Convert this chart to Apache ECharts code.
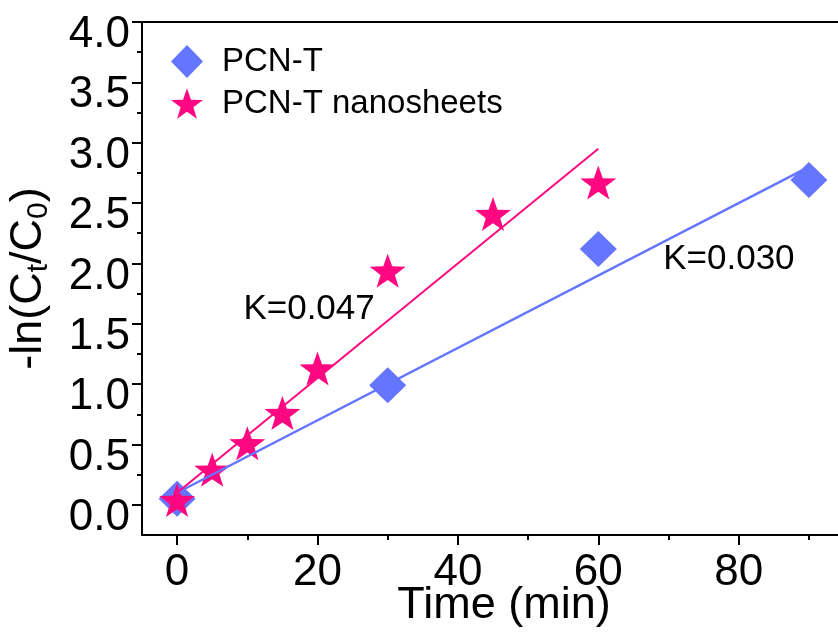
<!DOCTYPE html>
<html>
<head>
<meta charset="utf-8">
<script src="https://cdn.jsdelivr.net/npm/echarts@6/dist/echarts.min.js"></script>
<style>
html,body{margin:0;padding:0;background:#fff;}
#chart{width:838px;height:635px;}
</style>
</head>
<body>
<div id="chart"></div>
<script>
// ---- data ----
var seriesNames = ['PCN-T', 'PCN-T nanosheets'];
var timeT = [0, 30, 60, 90];
var valT = [0.05, 0.99, 2.12, 2.69];
var timeNS = [0, 5, 10, 15, 20, 30, 45, 60];
var valNS = [0.04, 0.29, 0.51, 0.76, 1.13, 1.94, 2.41, 2.67];
// linear fits (endpoints of fitted lines)
var fitT_x = [0, 90];
var fitT_y = [0.10, 2.80];
var fitNS_x = [0, 60];
var fitNS_y = [0.10, 2.95];
var fitLabels = ['K=0.030', 'K=0.047'];
var fitLabelPosT = [78.6, 2.03];
var fitLabelPosNS = [18.8, 1.62];
// ticks
var xMajor = [0, 20, 40, 60, 80];
var xMinor = [10, 30, 50, 70, 90];
var yMajor = [0, 0.5, 1.0, 1.5, 2.0, 2.5, 3.0, 3.5, 4.0];
var yMinor = [0.25, 0.75, 1.25, 1.75, 2.25, 2.75, 3.25, 3.75];

function zip(a, b) { return a.map(function (v, i) { return [v, b[i]]; }); }

var FONT = 'Liberation Sans, Arial, Helvetica, sans-serif';
var BLUE = '#6475FF';
var PINK = '#FF0780';
var STAR = 'path://M50,0 L61.8,33.8 L97.55,34.55 L69,56.5 L79.39,90.45 L50,70 L20.61,90.45 L31,56.5 L2.45,34.55 L38.2,33.8 Z';

var XMIN = -5, XMAX = 95, YMIN = -0.25, YMAX = 4.0;
var axisLineStyle = { color: '#000', width: 2 };

var chart = echarts.init(document.getElementById('chart'), null, { renderer: 'canvas' });
chart.setOption({
  animation: false,
  backgroundColor: '#fff',
  textStyle: { fontFamily: FONT },
  grid: { left: 142, top: 22, width: 702, height: 513, containLabel: false, outerBoundsMode: 'none' },
  legend: {
    orient: 'vertical',
    left: 166,
    top: 40,
    itemWidth: 32,
    itemHeight: 33,
    itemGap: 9,
    textStyle: { fontFamily: FONT, fontSize: 33, color: '#000', lineHeight: 33, padding: [0, 0, 0, 14] },
    data: [
      { name: seriesNames[0], icon: 'diamond' },
      { name: seriesNames[1], icon: STAR }
    ]
  },
  xAxis: [
    {
      type: 'value', min: XMIN, max: XMAX, position: 'bottom',
      axisLine: { show: true, onZero: false, lineStyle: axisLineStyle },
      axisTick: { show: true, inside: false, length: 10, customValues: xMajor, lineStyle: { color: '#000', width: 2 } },
      axisLabel: { show: true, customValues: xMajor, margin: 16, fontSize: 44, color: '#000', fontFamily: FONT },
      splitLine: { show: false },
      name: 'Time (min)', nameLocation: 'middle', nameGap: 48, nameMoveOverlap: false,
      nameTextStyle: { fontSize: 45, color: '#000', fontFamily: FONT, lineHeight: 45, padding: [0, 0, 0, 22] }
    },
    {
      type: 'value', min: XMIN, max: XMAX, position: 'bottom',
      axisLine: { show: false, onZero: false },
      axisTick: { show: true, inside: false, length: 5, customValues: xMinor, lineStyle: { color: '#000', width: 2 } },
      axisLabel: { show: false },
      splitLine: { show: false }
    },
    {
      type: 'value', min: XMIN, max: XMAX, position: 'top',
      axisLine: { show: true, onZero: false, lineStyle: axisLineStyle },
      axisTick: { show: false }, axisLabel: { show: false }, splitLine: { show: false }
    }
  ],
  yAxis: [
    {
      type: 'value', min: YMIN, max: YMAX, position: 'left',
      axisLine: { show: true, onZero: false, lineStyle: axisLineStyle },
      axisTick: { show: true, inside: false, length: 10, customValues: yMajor, lineStyle: { color: '#000', width: 2 } },
      axisLabel: {
        show: true, customValues: yMajor, margin: 12, fontSize: 44, color: '#000', fontFamily: FONT,
        verticalAlign: 'top', lineHeight: 26,
        formatter: function (v) { return v.toFixed(1); }
      },
      splitLine: { show: false },
      name: '-ln(C{sub|t}/C{sub|0})', nameLocation: 'middle', nameGap: 88, nameRotate: 90, nameMoveOverlap: false,
      nameTextStyle: {
        fontSize: 45, color: '#000', fontFamily: FONT, lineHeight: 50,
        rich: { sub: { fontSize: 30, lineHeight: 30, verticalAlign: 'bottom', fontFamily: FONT, color: '#000' } }
      }
    },
    {
      type: 'value', min: YMIN, max: YMAX, position: 'left',
      axisLine: { show: false, onZero: false },
      axisTick: { show: true, inside: false, length: 5, customValues: yMinor, lineStyle: { color: '#000', width: 2 } },
      axisLabel: { show: false },
      splitLine: { show: false }
    }
  ],
  series: [
    {
      name: seriesNames[0], type: 'scatter', xAxisIndex: 0, yAxisIndex: 0,
      symbol: 'diamond', symbolSize: [37, 36],
      itemStyle: { color: BLUE, opacity: 1 },
      data: zip(timeT, valT), z: 2
    },
    {
      name: seriesNames[1], type: 'scatter', xAxisIndex: 0, yAxisIndex: 0,
      symbol: STAR, symbolSize: [36, 34],
      itemStyle: { color: PINK, opacity: 1 },
      data: zip(timeNS, valNS), z: 3
    },
    {
      name: 'fitT', type: 'line', xAxisIndex: 0, yAxisIndex: 0,
      showSymbol: false, symbol: 'none', z: 4,
      lineStyle: { color: BLUE, width: 2.5 },
      data: zip(fitT_x, fitT_y),
      markPoint: {
        symbol: 'rect', symbolSize: 0,
        label: { show: true, position: 'inside', fontSize: 35, color: '#000', fontFamily: FONT, formatter: fitLabels[0] },
        data: [{ coord: fitLabelPosT }]
      }
    },
    {
      name: 'fitNS', type: 'line', xAxisIndex: 0, yAxisIndex: 0,
      showSymbol: false, symbol: 'none', z: 5,
      lineStyle: { color: PINK, width: 2 },
      data: zip(fitNS_x, fitNS_y),
      markPoint: {
        symbol: 'rect', symbolSize: 0,
        label: { show: true, position: 'inside', fontSize: 35, color: '#000', fontFamily: FONT, formatter: fitLabels[1] },
        data: [{ coord: fitLabelPosNS }]
      }
    }
  ]
});
</script>
</body>
</html>
